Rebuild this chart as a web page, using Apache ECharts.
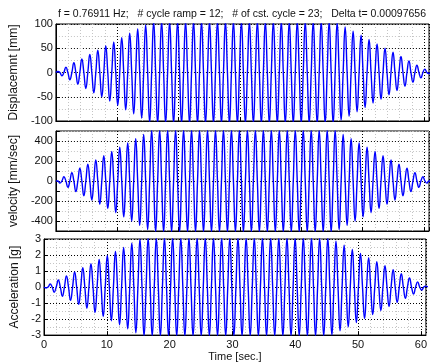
<!DOCTYPE html>
<html>
<head>
<meta charset="utf-8">
<script src="https://cdn.jsdelivr.net/npm/echarts@6/dist/echarts.min.js"></script>
<style>html,body{margin:0;padding:0;background:#fff}#c{width:430px;height:363px}</style>
</head>
<body>
<div id="c"></div>
<script>
// ---- data ----
const titleText = 'f = 0.76911 Hz;   # cycle ramp = 12;   # of cst. cycle = 23;   Delta t= 0.00097656';
const freqHz = 0.76911;
const xTicks = [0, 10, 20, 30, 40, 50, 60];
// displacement extremes (mm), one per half cycle, alternating sign (first positive)
const dispPeaks = [2,7,11,15,20,24,28,33,37,42,46,50,55,59,63,68,72,77,81,85,90,94,98,103,
  105,105,105,105,105,105,105,105,105,105,
  105,105,105,105,105,105,105,105,105,105,
  105,105,105,105,105,105,105,105,105,105,
  105,105,105,105,105,105,105,105,105,105,
  105,105,105,105,105,105,
  103,98,94,90,85,81,77,72,68,63,59,55,50,46,42,37,33,28,24,20,15,11,7,2];
// velocity extremes (mm/sec), one per half cycle, alternating sign (first negative)
const velPeaks = [21,42,63,84,106,127,148,169,190,211,232,253,275,296,317,338,359,380,401,422,444,465,486,507,
  507,507,507,507,507,507,507,507,507,507,
  507,507,507,507,507,507,507,507,507,507,
  507,507,507,507,507,507,507,507,507,507,
  507,507,507,507,507,507,507,507,507,507,
  507,507,507,507,507,507,
  486,465,444,422,401,380,359,338,317,296,275,253,232,211,190,169,148,127,106,84,63,42,21];
// acceleration extremes (g), one per half cycle, alternating sign (first negative)
const accPeaks = [0.06,0.19,0.32,0.44,0.57,0.70,0.83,0.95,1.08,1.21,1.33,1.46,1.59,1.72,1.84,1.97,2.10,2.22,2.35,2.48,2.61,2.73,2.86,2.99,
  3.05,3.05,3.05,3.05,3.05,3.05,3.05,3.05,3.05,3.05,
  3.05,3.05,3.05,3.05,3.05,3.05,3.05,3.05,3.05,3.05,
  3.05,3.05,3.05,3.05,3.05,3.05,3.05,3.05,3.05,3.05,
  3.05,3.05,3.05,3.05,3.05,3.05,3.05,3.05,3.05,3.05,
  3.05,3.05,3.05,3.05,3.05,3.05,
  2.99,2.86,2.73,2.61,2.48,2.35,2.22,2.10,1.97,1.84,1.72,1.59,1.46,1.33,1.21,1.08,0.95,0.83,0.70,0.57,0.44,0.32,0.19,0.06];

// ---- build point lists (extremes + zero crossings) ----
const h = 0.5 / freqHz;
function midPhase(peaks, firstSign) {
  const pts = [[0, 0]];
  for (let k = 0; k < peaks.length; k++) {
    const s = (k % 2 === 0 ? 1 : -1) * firstSign;
    pts.push([(k + 0.5) * h, s * peaks[k]]);
    pts.push([(k + 1) * h, 0]);
  }
  return pts;
}
function edgePhase(peaks, firstSign) {
  const pts = [[0, 0]];
  for (let k = 1; k <= peaks.length; k++) {
    const s = (k % 2 === 1 ? 1 : -1) * firstSign;
    pts.push([(k - 0.5) * h, 0]);
    pts.push([k * h, s * peaks[k - 1]]);
  }
  pts.push([(peaks.length + 0.5) * h, 0]);
  pts.push([(peaks.length + 1) * h, 0]);
  return pts;
}
const dispData = midPhase(dispPeaks, 1);
const velData = edgePhase(velPeaks, -1);
const accData = midPhase(accPeaks, -1);

const FONT = 'Liberation Sans';
const BLACK = '#000';
const MINOR = '#c4c4c4';
const grids = [
  {left: 44, top: 24, width: 385, height: 97},
  {left: 44, top: 131, width: 385, height: 100},
  {left: 44, top: 239, width: 385, height: 102}
];
function xAx(i, labels) {
  return {
    type: 'value', gridIndex: i, min: xTicks[0], max: 60.8, interval: 10,
    axisLine: {show: true, onZero: false, lineStyle: {color: BLACK, width: 1}},
    axisTick: {show: true, inside: true, length: 4, lineStyle: {color: BLACK}},
    minorTick: {show: false, splitNumber: 5},
    axisLabel: {show: labels, showMaxLabel: false, margin: 4, fontFamily: FONT, fontSize: 11, color: '#111'},
    splitLine: {show: true, lineStyle: {color: BLACK, type: [1, 2], width: 1}},
    minorSplitLine: {show: true, lineStyle: {color: MINOR, type: [1, 2], width: 1}},
    name: labels ? 'Time [sec.]' : '', nameLocation: 'middle', nameGap: 13,
    nameTextStyle: {fontFamily: FONT, fontSize: 11, color: '#111'}
  };
}
function yAx(i, cfg) {
  return Object.assign({
    type: 'value', gridIndex: i,
    axisLine: {show: true, onZero: false, lineStyle: {color: BLACK, width: 1}},
    axisTick: {show: true, inside: true, length: 4, lineStyle: {color: BLACK}},
    axisLabel: {margin: 3, fontFamily: FONT, fontSize: 11, color: '#111'},
    nameLocation: 'middle',
    nameTextStyle: {fontFamily: FONT, fontSize: 12, color: '#111'}
  }, cfg);
}

const chart = echarts.init(document.getElementById('c'), null, {renderer: 'canvas'});

chart.setOption({
  animation: false,
  backgroundColor: '#fff',
  title: {
    text: titleText, left: 237, top: 4, textAlign: 'center',
    textStyle: {fontFamily: FONT, fontSize: 10.5, fontWeight: 'normal', color: '#111'}
  },
  grid: grids.map(g => Object.assign({show: true, borderColor: BLACK, borderWidth: 1, backgroundColor: 'transparent'}, g)),
  xAxis: [xAx(0, false), xAx(1, false), xAx(2, true)],
  yAxis: [
    yAx(0, {min: -100, max: 100, interval: 50, name: 'Displacemnt [mm]', nameGap: 29,
      splitLine: {show: true, lineStyle: {color: BLACK, type: [1, 2]}},
      minorTick: {show: false, splitNumber: 2},
      minorSplitLine: {show: true, lineStyle: {color: MINOR, type: [1, 2]}}}),
    yAx(1, {min: -500, max: 500, interval: 100, name: 'velocity [mm/sec]', nameGap: 31,
      axisLabel: {margin: 3, fontFamily: FONT, fontSize: 11, color: '#111',
        formatter: v => (v % 200 === 0 && Math.abs(v) < 500) ? String(v) : ''},
      splitLine: {show: true, lineStyle: {color: [MINOR, BLACK], type: [1, 2]}}}),
    yAx(2, {min: -3, max: 3, interval: 1, name: 'Acceleration [g]', nameGap: 20,
      splitLine: {show: true, lineStyle: {color: BLACK, type: [1, 2]}},
      minorTick: {show: false, splitNumber: 2},
      minorSplitLine: {show: true, lineStyle: {color: MINOR, type: [1, 2]}}})
  ],
  series: [
    {type: 'line', xAxisIndex: 0, yAxisIndex: 0, data: dispData, smooth: 0.5, showSymbol: false, clip: true,
      lineStyle: {color: '#0000ff', width: 1.4}},
    {type: 'line', xAxisIndex: 1, yAxisIndex: 1, data: velData, smooth: 0.5, showSymbol: false, clip: true,
      lineStyle: {color: '#0000ff', width: 1.4}},
    {type: 'line', xAxisIndex: 2, yAxisIndex: 2, data: accData, smooth: 0.5, showSymbol: false, clip: true,
      lineStyle: {color: '#0000ff', width: 1.4}}
  ]
});
</script>
</body>
</html>
